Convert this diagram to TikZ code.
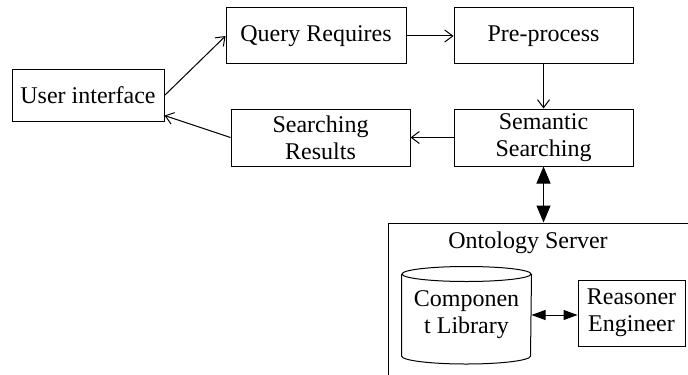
\documentclass[tikz,border=0pt]{standalone}
\usepackage{fontspec}
\setmainfont{Liberation Serif}
\usetikzlibrary{arrows.meta}

\begin{document}
\begin{tikzpicture}[x=0.5pt,y=-0.5pt,line width=0.5pt,
    font=\fontsize{12pt}{13.5pt}\selectfont,
    box/.style={draw, align=center, inner sep=0pt},
    thinarrow/.style={-{Straight Barb[length=4pt,width=6pt]}},
    bigarrow/.style={{Triangle[length=8.5pt,width=7pt]}-{Triangle[length=8.5pt,width=7pt]}},
    smallarrow/.style={{Triangle[length=7pt,width=5pt]}-{Triangle[length=7pt,width=5pt]}}]
        \clip (0,0) rectangle (688,374);

        % Interfaz y fila superior
        \node[box, minimum width=76pt, minimum height=25.5pt] (ui) at (88,95.5) {User interface};
        \node[box, minimum width=90pt, minimum height=28pt] (query) at (316,36) {Query Requires};
        \node[box, minimum width=89.5pt, minimum height=28pt] (pre) at (543.5,36) {Pre-process};

        % Fila inferior
        \node[box, minimum width=89.5pt, minimum height=28.5pt] (results) at (320.5,137.5) {Searching\\Results};
        \node[box, minimum width=89.5pt, minimum height=28.5pt] (semantic) at (543.5,137.5) {Semantic\\Searching};

        % Servidor de ontologias (cortado por el borde)
        \node[draw, minimum width=156pt, minimum height=88.5pt] (server) at (544,311.5) {};
        \node (srvlabel) at (528,243) {Ontology Server};

        % Biblioteca (cilindro) y razonador
        \node[align=center, inner sep=0pt, minimum width=64.5pt, minimum height=40.5pt] (lib) at (466.5,315) {Componen\\t Library};
        \draw (lib.north west) -- (lib.south west) arc[start angle=180, end angle=360, x radius=32.25pt, y radius=4pt] -- (lib.north east);
        \draw (lib.north) ellipse [x radius=32.25pt, y radius=3.75pt];
        \node[box, minimum width=53.5pt, minimum height=33pt] (reasoner) at (631.5,313) {Reasoner\\Engineer};

        % Flechas
        \draw[thinarrow] (ui.east) -- (query.west);
        \draw[thinarrow] (query.east) -- (pre.west);
        \draw[thinarrow] (pre.south) -- (semantic.north);
        \draw[thinarrow] (semantic.west) -- (results.west -| results.east);
        \draw[thinarrow] (results.west) -- ([yshift=3pt]ui.south east);
        \draw[bigarrow] (semantic.south) -- (semantic.south |- server.north);
        \draw[smallarrow] (lib.east) -- (lib.east -| reasoner.west);
    \end{tikzpicture}
\end{document}
